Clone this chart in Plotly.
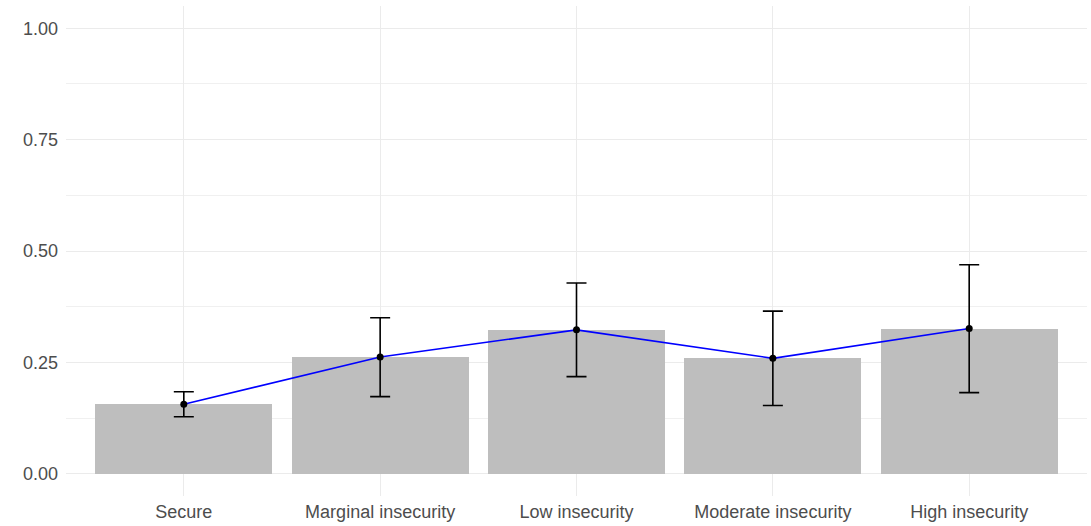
import plotly.graph_objects as go

categories = ["Secure", "Marginal insecurity", "Low insecurity", "Moderate insecurity", "High insecurity"]
means = [0.156, 0.262, 0.323, 0.259, 0.326]
upper = [0.184, 0.350, 0.428, 0.365, 0.469]
lower = [0.128, 0.173, 0.218, 0.153, 0.182]
y_ticks = [0.0, 0.25, 0.5, 0.75, 1.0]
y_tick_labels = ["0.00", "0.25", "0.50", "0.75", "1.00"]

err_plus = [u - m for u, m in zip(upper, means)]
err_minus = [m - l for m, l in zip(means, lower)]

fig = go.Figure()
fig.add_trace(go.Bar(
    x=categories, y=means, width=0.9,
    marker=dict(color="#bebebe", line=dict(width=0)),
    showlegend=False, hoverinfo="skip",
))
fig.add_trace(go.Scatter(
    x=categories, y=means, mode="lines",
    line=dict(color="#0000ff", width=1.6),
    showlegend=False,
))
fig.add_trace(go.Scatter(
    x=categories, y=means, mode="markers",
    marker=dict(color="#000000", size=7),
    error_y=dict(type="data", symmetric=False, array=err_plus, arrayminus=err_minus,
                 color="#000000", thickness=1.6, width=10),
    showlegend=False,
))

fig.update_layout(
    width=1091, height=526,
    margin=dict(l=66, r=4, t=6, b=30),
    plot_bgcolor="white", paper_bgcolor="white",
    font=dict(family="Liberation Sans, Arial, sans-serif", size=18, color="#4d4d4d"),
    bargap=0,
)
fig.update_xaxes(
    range=[-0.6, 4.6], showgrid=True, gridcolor="#ebebeb", gridwidth=1.1,
    zeroline=False, showline=False, ticks="", automargin=False, ticklabelstandoff=3,
    tickfont=dict(size=18, color="#4d4d4d"),
)
fig.update_yaxes(
    range=[-0.05, 1.05], tickvals=y_ticks, ticktext=y_tick_labels,
    showgrid=True, gridcolor="#ebebeb", gridwidth=1.1,
    minor=dict(tickvals=[0.125, 0.375, 0.625, 0.875], showgrid=True, gridcolor="#f0f0f0", gridwidth=0.6, ticks=""),
    zeroline=False, showline=False, ticks="", automargin=False, ticklabelstandoff=7,
    tickfont=dict(size=18, color="#4d4d4d"),
)

fig.write_html("out.html", config={"displayModeBar": False},
               post_script="document.body.style.margin='0';")
